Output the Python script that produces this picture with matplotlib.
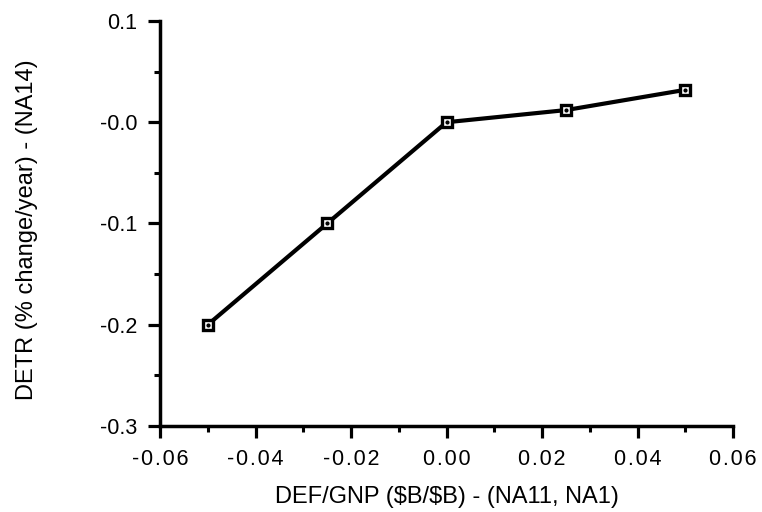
import numpy as np
import matplotlib
matplotlib.use("Agg")
import matplotlib.pyplot as plt
from matplotlib.ticker import MultipleLocator

plt.rcParams['font.family'] = ['Liberation Sans', 'DejaVu Sans']

# values
def_gnp = [-0.05, -0.025, 0.0, 0.025, 0.05]
detr = [-0.2, -0.1, 0.0, 0.012, 0.032]

xticks = [-0.06, -0.04, -0.02, 0.00, 0.02, 0.04, 0.06]
xtick_labels = ['-0.06', '-0.04', '-0.02', '0.00', '0.02', '0.04', '0.06']
yticks = [-0.3, -0.2, -0.1, 0.0, 0.1]
ytick_labels = ['-0.3', '-0.2', '-0.1', '-0.0', '0.1']

fig = plt.figure(figsize=(7.62, 5.12), dpi=100)
ax = fig.add_axes([0.21, 0.168, 0.752, 0.791])

ax.plot(def_gnp, detr, color='black', lw=3, marker='s', ms=7.5,
        mfc='white', mec='black', mew=2.4, zorder=3)
ax.plot(def_gnp, detr, ls='none', marker='o', ms=2, color='black', zorder=4)

ax.set_xlim(-0.06, 0.06)
ax.set_ylim(-0.3, 0.1)

ax.set_xticks(xticks)
# letter-spaced digits like the original
ax.set_xticklabels(['\u200a'.join(list(s)) for s in xtick_labels])
ax.set_yticks(yticks)
ax.set_yticklabels(ytick_labels)
ax.xaxis.set_minor_locator(MultipleLocator(0.01))
ax.yaxis.set_minor_locator(MultipleLocator(0.05))

for side in ['top', 'right']:
    ax.spines[side].set_visible(False)
for side in ['left', 'bottom']:
    ax.spines[side].set_linewidth(2.5)

ax.tick_params(which='major', direction='out', length=8.5, width=2.3,
               labelsize=15.5, pad=8)
ax.tick_params(which='minor', direction='out', length=4.5, width=2.2)

ax.set_xlabel(r'DEF/GNP (\$B/\$B) - (NA11, NA1)', fontsize=17)
ax.set_ylabel('DETR (% change/year) - (NA14)', fontsize=17)
ax.xaxis.set_label_coords(0.5, -0.148)
ax.yaxis.set_label_coords(-0.213, 0.484)

fig.savefig('out.png', dpi=100)
